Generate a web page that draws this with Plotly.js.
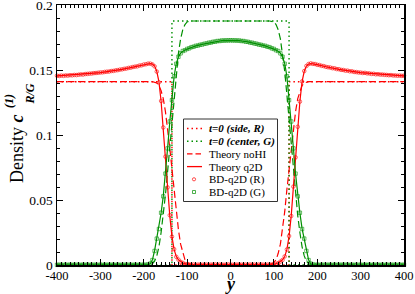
<!DOCTYPE html>
<html>
<head>
<meta charset="utf-8">
<script src="https://cdn.plot.ly/plotly-3.0.1.min.js"></script>
<style>html,body{margin:0;padding:0;background:#fff;}#chart{width:415px;height:294px;}</style>
</head>
<body>
<div id="chart"></div>
<script>
// ---------- DATA ----------
// initial condition t=0 (step profiles)
const t0SideX   = [-400, -135, -135, 135, 135, 400];
const t0SideY   = [0.141, 0.141, 0, 0, 0.141, 0.141];
const t0CenterX = [-400, -135, -135, 135, 135, 400];
const t0CenterY = [0, 0, 0.1877, 0.1877, 0, 0];

// Theory noHI (dashed)
const noHIRedX = [-400,-180,-170,-165,-160,-155,-150,-145,-140,-135,-130,-125,-120,-115,-110,-105,-100,-90,90,100,105,110,115,120,125,130,135,140,145,150,155,160,165,170,180,400];
const noHIRedY = [0.141,0.141,0.140,0.138,0.134,0.128,0.118,0.105,0.090,0.074,0.058,0.041,0.027,0.016,0.009,0.004,0.002,0,0,0.002,0.004,0.009,0.016,0.027,0.041,0.058,0.074,0.090,0.105,0.118,0.128,0.134,0.138,0.140,0.141,0.141];
const noHIGreenX = [-400,-190,-180,-175,-170,-165,-160,-155,-150,-145,-140,-135,-130,-125,-120,-115,-110,-105,-100,-95,-90,90,95,100,105,110,115,120,125,130,135,140,145,150,155,160,165,170,175,180,190,400];
const noHIGreenY = [0,0,0.001,0.003,0.007,0.014,0.025,0.038,0.054,0.072,0.091,0.111,0.131,0.149,0.163,0.174,0.181,0.185,0.187,0.1875,0.1877,0.1877,0.1875,0.187,0.185,0.181,0.174,0.163,0.149,0.131,0.111,0.091,0.072,0.054,0.038,0.025,0.014,0.007,0.003,0.001,0,0];

// Theory q2D (solid)
const q2dRedX = [-400,-350,-300,-250,-220,-200,-190,-185,-180,-175,-170,-165,-160,-155,-150,-145,-140,-135,-130,-125,-120,-110,-100,-50,0,50,100,110,120,125,130,135,140,145,150,155,160,165,170,175,180,185,190,200,220,250,300,350,400];
const q2dRedY = [0.1455,0.1465,0.148,0.1505,0.1525,0.1541,0.1548,0.155,0.1545,0.153,0.149,0.141,0.126,0.106,0.083,0.060,0.038,0.022,0.012,0.0065,0.004,0.0015,0.0005,0.0003,0.0003,0.0003,0.0005,0.0015,0.004,0.0065,0.012,0.022,0.038,0.060,0.083,0.106,0.126,0.141,0.149,0.153,0.1545,0.155,0.1548,0.1541,0.1525,0.1505,0.148,0.1465,0.1455];
const q2dGreenX = [-400,-200,-190,-185,-180,-175,-170,-165,-160,-155,-150,-145,-140,-135,-130,-125,-120,-115,-110,-100,-80,-60,-40,-20,0,20,40,60,80,100,110,115,120,125,130,135,140,145,150,155,160,165,170,175,180,185,190,200,400];
const q2dGreenY = [0,0,0.0003,0.001,0.004,0.011,0.020,0.028,0.040,0.053,0.070,0.090,0.110,0.127,0.145,0.155,0.160,0.163,0.1645,0.1661,0.1685,0.1701,0.1716,0.1726,0.1728,0.1726,0.1716,0.1701,0.1685,0.1661,0.1645,0.163,0.160,0.155,0.145,0.127,0.110,0.090,0.070,0.053,0.040,0.028,0.020,0.011,0.004,0.001,0.0003,0,0];

// BD-q2D simulation samples, y = -400 .. 400 every 5
const bdStartY = -400;
const bdStepY = 5;
const bdRed = [
0.1456,0.1454,0.1457,0.1455,0.1458,0.1457,0.1460,0.1459,0.1462,0.1461,
0.1464,0.1466,0.1465,0.1469,0.1470,0.1472,0.1473,0.1476,0.1477,0.1479,
0.1481,0.1482,0.1485,0.1487,0.1488,0.1492,0.1493,0.1497,0.1499,0.1503,
0.1505,0.1509,0.1511,0.1516,0.1518,0.1523,0.1526,0.1528,0.1534,0.1536,
0.1542,0.1544,0.1549,0.1549,0.1543,0.1528,0.1488,0.1405,0.1262,0.1058,
0.0834,0.0597,0.0383,0.0218,0.0122,0.0063,0.0041,0.0024,0.0016,0.0008,
0.0006,0.0004,0.0003,0.0004,0.0002,0.0003,0.0003,0.0002,0.0004,0.0003,
0.0002,0.0003,0.0003,0.0004,0.0002,0.0003,0.0003,0.0002,0.0003,0.0004,
0.0003,
0.0002,0.0003,0.0003,0.0004,0.0002,0.0003,0.0003,0.0002,0.0004,0.0003,
0.0003,0.0002,0.0003,0.0004,0.0003,0.0002,0.0003,0.0004,0.0003,0.0005,
0.0009,0.0015,0.0026,0.0039,0.0066,0.0119,0.0223,0.0377,0.0603,0.0828,
0.1063,0.1257,0.1412,0.1492,0.1531,0.1546,0.1551,0.1547,0.1546,0.1540,
0.1538,0.1532,0.1530,0.1524,0.1521,0.1519,0.1514,0.1513,0.1507,0.1506,
0.1501,0.1500,0.1495,0.1495,0.1490,0.1490,0.1485,0.1484,0.1481,0.1480,
0.1477,0.1478,0.1474,0.1474,0.1470,0.1471,0.1467,0.1468,0.1465,0.1465,
0.1463,0.1462,0.1460,0.1461,0.1458,0.1458,0.1456,0.1457,0.1455,0.1456
];
const bdGreen = [
0.0001,0.0002,0.0001,0.0001,0.0002,0.0001,0.0002,0.0001,0.0001,0.0002,
0.0001,0.0001,0.0002,0.0001,0.0002,0.0001,0.0001,0.0002,0.0001,0.0001,
0.0002,0.0001,0.0001,0.0002,0.0001,0.0002,0.0001,0.0001,0.0002,0.0001,
0.0001,0.0002,0.0001,0.0002,0.0001,0.0001,0.0002,0.0001,0.0001,0.0002,
0.0001,0.0002,
0.0004,0.0011,0.0038,0.0108,0.0203,0.0277,0.0402,0.0528,0.0703,0.0897,
0.1104,0.1268,0.1452,0.1548,0.1602,0.1628,0.1646,0.1652,0.1662,0.1667,
0.1676,0.1679,0.1686,0.1688,0.1694,0.1696,0.1702,0.1704,0.1710,0.1711,
0.1717,0.1718,0.1723,0.1723,0.1727,0.1726,0.1728,0.1727,0.1729,
0.1727,0.1728,0.1726,0.1727,0.1723,0.1723,0.1718,0.1717,0.1711,0.1710,
0.1704,0.1702,0.1696,0.1694,0.1688,0.1686,0.1679,0.1676,0.1667,0.1662,
0.1652,0.1646,0.1628,0.1602,0.1548,0.1452,0.1268,0.1104,0.0897,0.0703,
0.0528,0.0402,0.0277,0.0203,0.0108,0.0038,0.0011,0.0004,
0.0001,0.0002,0.0001,0.0001,0.0002,0.0001,0.0002,0.0001,0.0001,0.0002,
0.0001,0.0001,0.0002,0.0001,0.0002,0.0001,0.0001,0.0002,0.0001,0.0001,
0.0002,0.0001,0.0001,0.0002,0.0001,0.0002,0.0001,0.0001,0.0002,0.0001,
0.0001,0.0002,0.0001,0.0002,0.0001,0.0001,0.0002,0.0001,0.0001,0.0002,
0.0001,0.0002
];

// tick labels
const xTickVals = [-400,-300,-200,-100,0,100,200,300,400];
const xTickText = ['-400','-300','-200','-100','0','100','200','300','400'];
const yTickVals = [0, 0.05, 0.1, 0.15, 0.2];
const yTickText = ['0', '0.05', '0.1', '0.15', '0.2'];

// legend labels
const legendLabels = [
  '<b><i>t=0 (side, R)</i></b>',
  '<b><i>t=0 (center, G)</i></b>',
  'Theory noHI',
  'Theory q2D',
  'BD-q2D (R)',
  'BD-q2D (G)'
];

// ---------- STYLE ----------
const RED = '#ff0000';
const GREEN = '#009000';
const FONT = 'Liberation Serif, Times New Roman, serif';
const DOT = '1.5px,3px';
const DASH = '7px,3.5px';

const traces = [
  {x: t0SideX, y: t0SideY, mode: 'lines', line: {color: RED, width: 1.4, dash: DOT}},
  {x: t0CenterX, y: t0CenterY, mode: 'lines', line: {color: GREEN, width: 1.4, dash: DOT}},
  {x: noHIRedX, y: noHIRedY, mode: 'lines', line: {color: RED, width: 1.2, dash: DASH}},
  {x: noHIGreenX, y: noHIGreenY, mode: 'lines', line: {color: GREEN, width: 1.2, dash: DASH}},
  {x: q2dRedX, y: q2dRedY, mode: 'lines', line: {color: RED, width: 1.2}},
  {x: q2dGreenX, y: q2dGreenY, mode: 'lines', line: {color: GREEN, width: 1.2}},
  {x0: bdStartY, dx: bdStepY, y: bdRed, mode: 'markers', cliponaxis: false,
   marker: {symbol: 'circle-open', size: 3.6, color: RED, line: {width: 0.6, color: RED}}},
  {x0: bdStartY, dx: bdStepY, y: bdGreen, mode: 'markers', cliponaxis: false,
   marker: {symbol: 'square-open', size: 3.4, color: GREEN, line: {width: 0.6, color: GREEN}}}
];
traces.forEach(t => { t.type = 'scatter'; t.showlegend = false; t.hoverinfo = 'skip'; });

// pixel helpers for layout decorations (plot area 57..404 x 5..265)
const L = 57, R = 11, T = 5, B = 29, W = 415 - L - R, H = 294 - T - B;
const PX = X => (X - L) / W;
const PY = Y => (H + T - Y) / H;

const minorX = [];
for (let v = -400; v <= 400; v += 10) minorX.push(v);

const rowY = [128.5, 141.2, 153.9, 166.6, 179.3, 192];
const sampleStyles = [
  {color: RED, dash: DOT, width: 1.5},
  {color: GREEN, dash: DOT, width: 1.5},
  {color: RED, dash: '5.5px,3px', width: 1.2},
  {color: RED, dash: 'solid', width: 1.3}
];

const shapes = [{
  type: 'rect', xref: 'paper', yref: 'paper', layer: 'above',
  x0: PX(183.5), x1: PX(277.5), y0: PY(201.5), y1: PY(119),
  line: {color: '#333', width: 1}, fillcolor: '#fff'
}];
sampleStyles.forEach((s, i) => {
  shapes.push({type: 'line', xref: 'paper', yref: 'paper', layer: 'above',
    x0: PX(187), x1: PX(202), y0: PY(rowY[i]), y1: PY(rowY[i]),
    line: {color: s.color, width: s.width, dash: s.dash}});
});
shapes.push({type: 'circle', xref: 'paper', yref: 'paper', layer: 'above',
  x0: PX(192.4), x1: PX(195.6), y0: PY(rowY[4] + 1.6), y1: PY(rowY[4] - 1.6),
  line: {color: RED, width: 0.7}, fillcolor: 'rgba(0,0,0,0)'});
shapes.push({type: 'rect', xref: 'paper', yref: 'paper', layer: 'above',
  x0: PX(192.5), x1: PX(195.5), y0: PY(rowY[5] + 1.5), y1: PY(rowY[5] - 1.5),
  line: {color: GREEN, width: 0.7}, fillcolor: 'rgba(0,0,0,0)'});

const annotations = legendLabels.map((txt, i) => ({
  xref: 'paper', yref: 'paper', x: PX(206.5), y: PY(rowY[i]),
  xanchor: 'left', yanchor: 'middle', showarrow: false, text: txt,
  font: {family: FONT, size: 11, color: '#000'}
}));
annotations.push(
  {xref: 'paper', yref: 'paper', x: PX(17), y: PY(149), textangle: -90,
   xanchor: 'center', yanchor: 'middle', showarrow: false,
   text: 'Density <b><i>c</i></b>', font: {family: FONT, size: 18, color: '#000'}},
  {xref: 'paper', yref: 'paper', x: PX(9), y: PY(101), textangle: -90,
   xanchor: 'center', yanchor: 'middle', showarrow: false,
   text: '<b><i>(1)</i></b>', font: {family: FONT, size: 12, color: '#000'}},
  {xref: 'paper', yref: 'paper', x: PX(29.5), y: PY(94), textangle: -90,
   xanchor: 'center', yanchor: 'middle', showarrow: false,
   text: '<b><i>R/G</i></b>', font: {family: FONT, size: 12, color: '#000'}},
  {xref: 'paper', yref: 'paper', x: PX(230.5), y: PY(284), xanchor: 'center', yanchor: 'middle',
   showarrow: false, text: '<b><i>y</i></b>', font: {family: FONT, size: 18, color: '#000'}}
);

const axisCommon = {
  showline: true, linecolor: '#000', linewidth: 1.5, mirror: 'ticks',
  ticks: 'inside', ticklen: 6, tickwidth: 1, tickcolor: '#000',
  showgrid: false, zeroline: false, fixedrange: true,
  ticklabeloverflow: 'allow'
};

const layout = {
  width: 415, height: 294,
  margin: {l: L, r: R, t: T, b: B, pad: 0},
  paper_bgcolor: '#fff', plot_bgcolor: '#fff',
  showlegend: false,
  xaxis: Object.assign({}, axisCommon, {
    range: [-400, 400], tickmode: 'array', tickvals: xTickVals, ticktext: xTickText,
    tickfont: {family: FONT, size: 12.5, color: '#000'}, ticklabelstandoff: -2,
    minor: {tickmode: 'array', tickvals: minorX, ticks: 'inside', ticklen: 3, tickwidth: 1, tickcolor: '#000'}
  }),
  yaxis: Object.assign({}, axisCommon, {
    range: [0, 0.2], tickmode: 'array', tickvals: yTickVals, ticktext: yTickText,
    tickfont: {family: FONT, size: 13.5, color: '#000'}, ticklabelstandoff: 0,
    minor: {tickmode: 'linear', tick0: 0, dtick: 0.01, ticks: 'inside', ticklen: 3, tickwidth: 1, tickcolor: '#000'}
  }),
  shapes: shapes,
  annotations: annotations
};

Plotly.newPlot('chart', traces, layout, {staticPlot: true, displayModeBar: false});
</script>
</body>
</html>
